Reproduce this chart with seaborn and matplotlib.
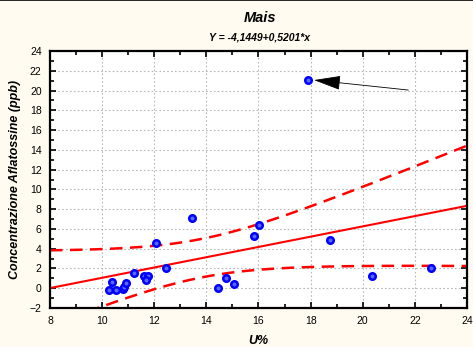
import numpy as np
import pandas as pd
import matplotlib
matplotlib.use("Agg")
import matplotlib.pyplot as plt
from matplotlib.ticker import MultipleLocator
import seaborn as sns

# Data
u_pct = [10.37, 10.28, 10.52, 10.79, 10.85, 10.92, 11.22, 11.62, 11.77, 11.68,
         12.07, 12.45, 13.45, 14.46, 14.75, 15.06, 15.83, 16.03, 18.76, 20.37,
         22.61, 17.91]
aflatoxin = [0.66, -0.18, -0.18, -0.08, 0.15, 0.50, 1.50, 1.27, 1.27, 0.83,
             4.54, 2.07, 7.13, 0.02, 1.03, 0.46, 5.31, 6.36, 4.88, 1.23,
             2.01, 21.10]
intercept = -4.1449
slope = 0.5201
x_ticks = [8, 10, 12, 14, 16, 18, 20, 22, 24]
y_ticks = [-2, 0, 2, 4, 6, 8, 10, 12, 14, 16, 18, 20, 22, 24]
title = "Mais"
subtitle = "Y = -4,1449+0,5201*x"
x_label = "U%"
y_label = "Concentrazione Aflatossine (ppb)"
arrow_tail = (21.75, 20.05)
arrow_head = (18.13, 21.06)

df = pd.DataFrame({"U": u_pct, "A": aflatoxin})

sns.set_style("white")
plt.rcParams["font.family"] = ["Liberation Sans", "DejaVu Sans"]
plt.rcParams["text.color"] = "black"
plt.rcParams["axes.labelcolor"] = "black"
plt.rcParams["xtick.color"] = "black"
plt.rcParams["ytick.color"] = "black"

bg = "#fffbf0"
fig = plt.figure(figsize=(4.73, 3.47), dpi=100, facecolor=bg)
ax = fig.add_axes([0.1057, 0.1124, 0.8816, 0.7406])
ax.set_facecolor("white")
ax.set_xlim(8, 24)
ax.set_ylim(-2, 24)

# regression line (as stated on the chart) + 95% confidence bands
x = np.asarray(u_pct)
y = np.asarray(aflatoxin)
n = len(x)
xs = np.linspace(8, 24, 200)
yhat = intercept + slope * xs
resid = y - (intercept + slope * x)
s = np.sqrt(np.sum(resid ** 2) / (n - 2))
t = 2.086
se = s * np.sqrt(1 / n + (xs - x.mean()) ** 2 / np.sum((x - x.mean()) ** 2))
band = pd.DataFrame({"x": xs, "fit": yhat, "lo": yhat - t * se, "hi": yhat + t * se})

sns.lineplot(data=band, x="x", y="fit", ax=ax, color="#ff0000", lw=1.5)
sns.lineplot(data=band, x="x", y="lo", ax=ax, color="#ff0000", lw=1.8,
             linestyle=(0, (5, 3)))
sns.lineplot(data=band, x="x", y="hi", ax=ax, color="#ff0000", lw=1.8,
             linestyle=(0, (5, 3)))

sns.scatterplot(data=df, x="U", y="A", ax=ax, s=22, marker="o",
                facecolor="#5a66ff", edgecolor="#0000ff", linewidth=1.8,
                zorder=5)

ax.annotate("", xy=arrow_head, xytext=arrow_tail,
            arrowprops=dict(arrowstyle="-|>,head_length=1.7,head_width=0.45",
                            color="black", lw=0.6, shrinkA=0, shrinkB=0))

ax.set_xticks(x_ticks)
ax.set_yticks(y_ticks)
ax.xaxis.set_minor_locator(MultipleLocator(1))
ax.yaxis.set_minor_locator(MultipleLocator(1))
ax.grid(True, which="major", color="#b8b8b8", linestyle=(0, (1.5, 2)), lw=0.8)
ax.tick_params(which="both", direction="in", top=True, right=True,
               bottom=True, left=True, width=1.2, color="black")
ax.tick_params(which="major", length=4, labelsize=7.5, pad=6)
ax.tick_params(which="minor", length=3)
for sp in ax.spines.values():
    sp.set_color("black")
    sp.set_linewidth(1.6)

ax.set_xlabel(x_label, fontsize=9, fontweight="bold", fontstyle="italic", labelpad=6)
ax.set_ylabel(y_label, fontsize=9, fontweight="bold", fontstyle="italic", labelpad=6)

fig.text(0.5495, 1 - 18 / 347, title, ha="center", va="center",
         fontsize=10.5, fontweight="bold", fontstyle="italic")
fig.text(0.5495, 1 - 37 / 347, subtitle, ha="center", va="center",
         fontsize=7.5, fontweight="bold", fontstyle="italic")

fig.add_artist(plt.Line2D([0, 1], [0.999, 0.999], color="black", lw=1.2,
                          transform=fig.transFigure))

fig.savefig("out.png", dpi=100, facecolor=bg)
